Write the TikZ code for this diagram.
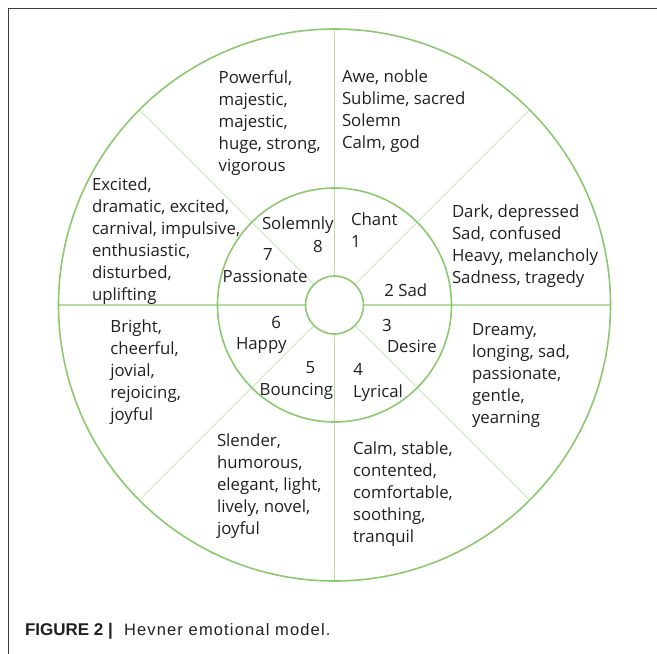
\documentclass[tikz,border=0pt]{standalone}
\usepackage{fontspec}
\setmainfont{Open Sans}
\newfontfamily\capfont{Liberation Sans}
\newfontfamily\capfontwide[LetterSpace=7]{Liberation Sans}
\definecolor{ringgreen}{HTML}{8CC870}
\definecolor{axisgreen}{HTML}{B6DDA2}
\definecolor{diaggreen}{HTML}{CDE8BE}
\definecolor{inkgray}{HTML}{231F20}
\definecolor{framegray}{HTML}{3C3C3C}
\newcommand{\wordfont}{\fontsize{16.8}{22}\selectfont}
\tikzset{
  ring/.style={circle,draw=ringgreen,line width=1.6pt,inner sep=0pt},
  axis/.style={draw=axisgreen,line width=1.1pt},
  diag/.style={draw=diaggreen,line width=1pt},
  words/.style={anchor=north west,align=left,inner sep=0pt,font=\wordfont,text=inkgray},
  num/.style={anchor=north,inner sep=0pt,font=\wordfont,text=inkgray}
}
\begin{document}
\begin{tikzpicture}[x=1pt,y=-1pt]
  \useasboundingbox (0,0) rectangle (657,654);
  \draw[framegray,line width=1.3pt] (8.3,654) -- (8.3,8.3) -- (657,8.3);

  \node (hub) at (334.5,305) [circle,inner sep=0pt,minimum size=58pt]{};
  \node (inner) at (334.5,305) [circle,inner sep=0pt,minimum size=234pt]{};
  \node (outer) at (334.5,305) [circle,inner sep=0pt,minimum size=552pt]{};

  \draw[axis] (hub.0) -- (outer.0);
  \draw[axis] (hub.90) -- (outer.90);
  \draw[axis] (hub.180) -- (outer.180);
  \draw[axis] (hub.270) -- (outer.270);
  \draw[diag] (hub.45) -- (outer.45);
  \draw[diag] (hub.135) -- (outer.135);
  \draw[diag] (hub.225) -- (outer.225);
  \draw[diag] (hub.315) -- (outer.315);

  \node at (hub) [ring,minimum size=58pt]{};
  \node at (inner) [ring,minimum size=234pt]{};
  \node at (outer) [ring,minimum size=552pt]{};

  \node (powerful) at (218.5,70.9) [words]{Powerful,\\majestic,\\majestic,\\huge, strong,\\vigorous};
  \node (awe) at (341.8,69.9) [words]{Awe, noble\\Sublime, sacred\\Solemn\\Calm, god};
  \node (dark) at (451.8,204.2) [words]{Dark, depressed\\Sad, confused\\Heavy, melancholy\\Sadness, tragedy};
  \node (dreamy) at (471.8,323.3) [words]{Dreamy,\\longing, sad,\\passionate,\\gentle,\\yearning};
  \node (calm) at (352.8,441.9) [words]{Calm, stable,\\contented,\\comfortable,\\soothing,\\tranquil};
  \node (slender) at (216.8,433.2) [words]{Slender,\\humorous,\\elegant, light,\\lively, novel,\\joyful};
  \node (bright) at (110.2,319.2) [words]{Bright,\\cheerful,\\jovial,\\rejoicing,\\joyful};
  \node (excited) at (91.8,177.5) [words]{Excited,\\dramatic, excited,\\carnival, impulsive,\\enthusiastic,\\disturbed,\\uplifting};

  \node (chant) at (350.8,212.5) [words]{Chant};
  \node (one) at (356,235) [num]{1};
  \node (sad) at (384.2,283.5) [words]{2 Sad};
  \node (three) at (387,319.3) [num]{3};
  \node (desire) at (386.8,340.2) [words]{Desire};
  \node (four) at (358.3,363.3) [num]{4};
  \node (lyrical) at (352.8,384.2) [words]{Lyrical};
  \node (five) at (310.5,361.7) [num]{5};
  \node (bouncing) at (259.5,383.2) [words]{Bouncing};
  \node (six) at (276.3,316) [num]{6};
  \node (happy) at (235.8,336.9) [words]{Happy};
  \node (seven) at (268,248.3) [num]{7};
  \node (passionate) at (222.5,269.5) [words]{Passionate};
  \node (eight) at (318,240) [num]{8};
  \node (solemnly) at (261.8,216.5) [words]{Solemnly};

  \node (figlabel) at (24.8,635.7) [anchor=base west,inner sep=0pt,text=inkgray,font=\capfont\bfseries\fontsize{17}{20}\selectfont]{FIGURE 2 |};
  \node (figtext) at (123.8,635.7) [anchor=base west,inner sep=0pt,text=inkgray,font=\capfontwide\fontsize{16.5}{20}\selectfont]{Hevner emotional model.};
\end{tikzpicture}
\end{document}
